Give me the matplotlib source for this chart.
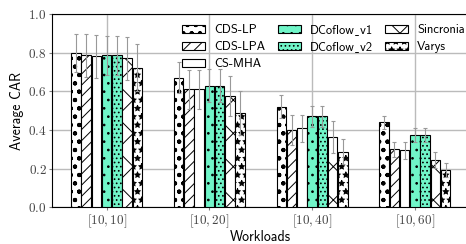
import numpy as np
import matplotlib
matplotlib.use('Agg')
from matplotlib import pyplot as plt

plt.rcParams['mathtext.fontset'] = 'cm'
plt.rcParams['font.family'] = ['cmss10', 'DejaVu Sans']
plt.rcParams['axes.unicode_minus'] = False
plt.rcParams['hatch.linewidth'] = 0.7

# data
workloads = ['$[10, 10]$', '$[10, 20]$', '$[10, 40]$', '$[10, 60]$']
algos = ['CDS-LP', 'CDS-LPA', 'CS-MHA', 'DCoflow_v1', 'DCoflow_v2',
         'Sincronia', 'Varys']
car = {
    'CDS-LP':     [0.80, 0.67, 0.52, 0.44],
    'CDS-LPA':    [0.786, 0.61, 0.40, 0.30],
    'CS-MHA':     [0.781, 0.61, 0.41, 0.296],
    'DCoflow_v1': [0.786, 0.63, 0.47, 0.374],
    'DCoflow_v2': [0.786, 0.63, 0.47, 0.374],
    'Sincronia':  [0.771, 0.574, 0.365, 0.245],
    'Varys':      [0.722, 0.486, 0.288, 0.193],
}
err = {
    'CDS-LP':     [0.098, 0.08, 0.06, 0.034],
    'CDS-LPA':    [0.11, 0.10, 0.075, 0.04],
    'CS-MHA':     [0.11, 0.10, 0.07, 0.044],
    'DCoflow_v1': [0.10, 0.085, 0.053, 0.035],
    'DCoflow_v2': [0.10, 0.085, 0.053, 0.035],
    'Sincronia':  [0.11, 0.104, 0.082, 0.039],
    'Varys':      [0.12, 0.114, 0.064, 0.038],
}
hatches = ['oo..', '///', '', '..', '....', 'x', '**']
colors = ['white', 'white', 'white', '#70f5c8', '#70f5c8', 'white', 'white']

def lab(s):
    # cmss10 has no real underscore, take a low macron from DejaVu
    return s.replace('_', '\u02cd')

fig = plt.figure(figsize=(4.66, 2.44), dpi=100)
ax = fig.add_axes([0.112, 0.150, 0.893, 0.793])
w = 0.1
x = np.arange(len(workloads))
for i, a in enumerate(algos):
    ax.bar(x + (i - 3)*w, car[a], w*0.92, yerr=err[a], color=colors[i],
           edgecolor='black', lw=0.8, hatch=hatches[i], label=lab(a),
           error_kw=dict(ecolor='#999999', elinewidth=0.8, capsize=1.5,
                         capthick=0.8), zorder=3)

ax.set_xticks(x)
ax.set_xticklabels(workloads, fontsize=9.5, color='#444444')
yt = np.arange(0, 1.01, 0.2)
ax.set_yticks(yt)
ax.set_yticklabels(['$%.1f$' % v for v in yt], fontsize=9.5, color='#444444')
ax.set_ylim(0, 1.0)
ax.set_xlim(-0.53, 3.52)
ax.grid(color='#bbbbbb', lw=1, zorder=0)
ax.tick_params(length=2, color='gray', pad=2)
ax.set_ylabel('Average CAR', fontsize=10, labelpad=3)
ax.set_xlabel('Workloads', fontsize=10, labelpad=0)
ax.spines['right'].set_visible(False)
ax.legend(ncol=3, loc='upper left', bbox_to_anchor=(0.285, 1.004),
          frameon=False, fontsize=9, handlelength=1.85, handleheight=0.5,
          columnspacing=1.0, labelspacing=0.4, handletextpad=0.7)

fig.savefig('out.png', dpi=100)
